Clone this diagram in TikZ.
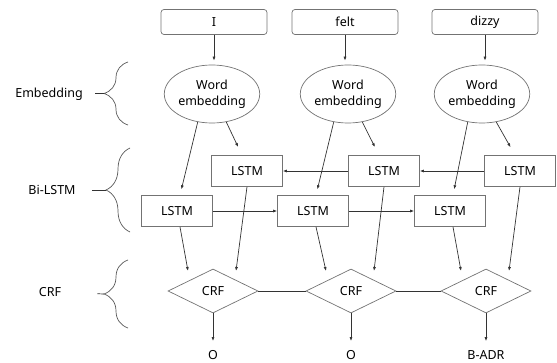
\documentclass[tikz,border=0pt]{standalone}
\usepackage{fontspec}
\setmainfont{Noto Sans}
\usepackage{tikz}
\usetikzlibrary{shapes.geometric,arrows.meta,decorations.pathreplacing}
\tikzstyle{word} = [rectangle, draw=black!55, rounded corners=3pt,
    minimum width=106pt, minimum height=25pt]
\tikzstyle{embed} = [ellipse, draw=black!55, align=center, inner sep=0pt,
    minimum width=88pt, minimum height=58pt]
\tikzstyle{lstm} = [rectangle, draw=black!55, minimum width=71pt, minimum height=31pt]
\tikzstyle{crf} = [diamond, draw=black!55, inner sep=0pt, minimum width=90pt, minimum height=44pt]
\tikzstyle{tag} = [inner sep=0pt]
\tikzstyle{layer} = [inner sep=0pt]
\tikzstyle{line} = [draw=black!80, -{Latex[length=4pt,width=3pt]}]
\tikzstyle{link} = [draw=black!80]
\tikzstyle{group} = [draw=black!65, decorate, decoration={brace, amplitude=24pt}]

\begin{document}
\begin{tikzpicture}[x=1pt, y=-1pt, line width=0.7pt, font=\fontsize{12.5}{16}\selectfont]
      \useasboundingbox (0,0) rectangle (557,363);
      % Words
      \node [word] (w1) at (214,22) {I};
      \node [word] (w2) at (345,22) {felt};
      \node [word] (w3) at (485,22) {dizzy};
      % Embedding
      \node [embed] (e1) at (212,94) {Word\\embedding};
      \node [embed] (e2) at (348,94) {Word\\embedding};
      \node [embed] (e3) at (482,94) {Word\\embedding};
      % Bi-LSTM
      \node [lstm] (u1) at (247,171) {LSTM};
      \node [lstm] (u2) at (384,171) {LSTM};
      \node [lstm] (u3) at (520,171) {LSTM};
      \node [lstm] (l1) at (177,211) {LSTM};
      \node [lstm] (l2) at (313,211) {LSTM};
      \node [lstm] (l3) at (450,211) {LSTM};
      % CRF
      \node [crf] (c1) at (213,291) {CRF};
      \node [crf] (c2) at (351,291) {CRF};
      \node [crf] (c3) at (486,291) {CRF};
      \node [tag] (o1) at (213,355) {O};
      \node [tag] (o2) at (351,355) {O};
      \node [tag] (o3) at (486,355) {B-ADR};
      % Layer names
      \node [layer] (emb) at (49,94) {Embedding};
      \node [layer] (bil) at (52,190) {Bi-LSTM};
      \node [layer] (crfl) at (50,292) {CRF};
      \coordinate (embtip) at (104,93.5);
      \coordinate (biltip) at (106,190);
      \coordinate (crftip) at (104,294);
      \draw [group] (128,125) -- (128,62);
      \draw [group] (130,232) -- (130,148);
      \draw [group] (128,328) -- (128,260);
      \draw [link, shorten <=12pt] (emb) -- (embtip);
      \draw [link, shorten <=16pt] (bil) -- (biltip);
      \draw [link, shorten <=36pt] (crfl) -- (crftip);
      % Draw edges
      \path [line, shorten >=4pt] (w1.south) -- (w1.south |- e1.north);
      \path [line, shorten >=4pt] (w2.south) -- (w2.south |- e2.north);
      \path [line, shorten >=4pt] (w3.south) -- (w3.south |- e3.north);
      \path [line, shorten >=6pt] (e1.-117) -- ([xshift=3pt]l1.north);
      \path [line, shorten >=9pt] (e1.-63) -- ([xshift=-5pt]u1.north);
      \path [line, shorten >=6pt] (e2.-117) -- ([xshift=3pt]l2.north);
      \path [line, shorten >=9pt] (e2.-63) -- ([xshift=-5pt]u2.north);
      \path [line, shorten >=6pt] (e3.-117) -- ([xshift=3pt]l3.north);
      \path [line, shorten >=9pt] (e3.-63) -- ([xshift=-5pt]u3.north);
      \path [line] (l1) -- (l2);
      \path [line] (l2) -- (l3);
      \path [line] (u3) -- (u2);
      \path [line] (u2) -- (u1);
      \path [line] ([xshift=3pt]l1.south) -- ([xshift=-25pt,yshift=20pt]c1.center);
      \path [line] (u1.south) -- ([xshift=23pt,yshift=20pt]c1.center);
      \path [line] ([xshift=3pt]l2.south) -- ([xshift=-25pt,yshift=20pt]c2.center);
      \path [line] (u2.south) -- ([xshift=23pt,yshift=20pt]c2.center);
      \path [line] ([xshift=3pt]l3.south) -- ([xshift=-25pt,yshift=20pt]c3.center);
      \path [line] (u3.south) -- ([xshift=23pt,yshift=20pt]c3.center);
      \path [link] (c1) -- (c2);
      \path [link] (c2) -- (c3);
      \path [line, shorten >=9pt] (c1) -- (o1);
      \path [line, shorten >=9pt] (c2) -- (o2);
      \path [line, shorten >=9pt] (c3) -- (o3);
  \end{tikzpicture}
\end{document}
